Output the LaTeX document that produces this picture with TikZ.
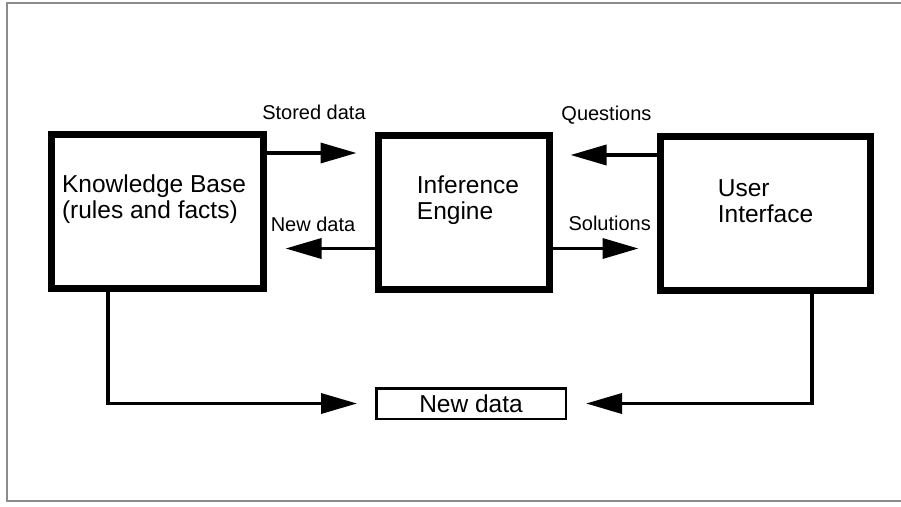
\documentclass[tikz,border=0pt]{standalone}
\usepackage{fontspec}
\setmainfont{Liberation Sans}
\usetikzlibrary{arrows.meta}
\begin{document}
\begin{tikzpicture}[x=1pt,y=-1pt,
    bigbox/.style={draw,line width=7pt,minimum width=#1,minimum height=154pt,inner sep=0pt},
    smallbox/.style={draw,line width=2.5pt,minimum width=189.5pt,minimum height=30.5pt,inner sep=0pt,
      font=\fontsize{24.5}{26}\selectfont},
    boxtext/.style={align=left,inner sep=0pt,font=\fontsize{24.5}{26}\selectfont},
    lbl/.style={inner sep=0pt,font=\fontsize{20}{22}\selectfont,text height=14pt,text depth=4pt},
    arr/.style={line width=3.5pt,-{Triangle[length=36pt,width=20pt]}},
    frame/.style={draw=black!45,line width=2pt}]
        \useasboundingbox (0,0) rectangle (901,506);
        \draw[frame] (901,3) -- (7,3) -- (7,501) -- (901,501);
        % boxes
        \draw (157.5,211.5) node[bigbox=212pt](kb){};
        \draw (464,212) node[bigbox=171pt](ie){};
        \draw (765.5,213.5) node[bigbox=210pt](ui){};
        \draw (471,403.5) node[smallbox](nd){New data};
        \node[boxtext] (kbtext) at ([xshift=-3.5pt,yshift=12pt]kb.center) {Knowledge Base\\(rules and facts)};
        \node[boxtext] (ietext) at ([xshift=4pt,yshift=12pt]ie.center) {Inference\\Engine};
        \node[boxtext] (uitext) at ([yshift=12pt]ui.center) {User\\Interface};
        % arrows between the boxes
        \draw[arr,shorten >=18.5pt]
          ([yshift=58.5pt]kb.east) -- node[lbl,pos=.435,yshift=39pt](storedlbl){Stored data} ([yshift=58.5pt]kb.east -| ie.west);
        \draw[arr,shorten >=18.5pt]
          ([yshift=-36.5pt]ie.west) -- node[lbl,pos=.574,yshift=22pt](newlbl){New data} ([yshift=-36.5pt]ie.west -| kb.east);
        \draw[arr,shorten >=17.5pt]
          ([yshift=58.5pt]ui.west) -- node[lbl,pos=.486,yshift=40pt](questlbl){Questions} ([yshift=58.5pt]ui.west -| ie.east);
        \draw[arr,shorten >=18.5pt]
          ([yshift=-36.5pt]ie.east) -- node[lbl,pos=.545,yshift=23pt](sollbl){Solutions} ([yshift=-36.5pt]ie.east -| ui.west);
        % down to the new data box
        \draw[arr,shorten >=18pt] ([xshift=-49.5pt]kb.south) |- (nd.west);
        \draw[arr,shorten >=19pt] ([xshift=46.5pt]ui.south) |- (nd.east);
      \end{tikzpicture}
\end{document}
